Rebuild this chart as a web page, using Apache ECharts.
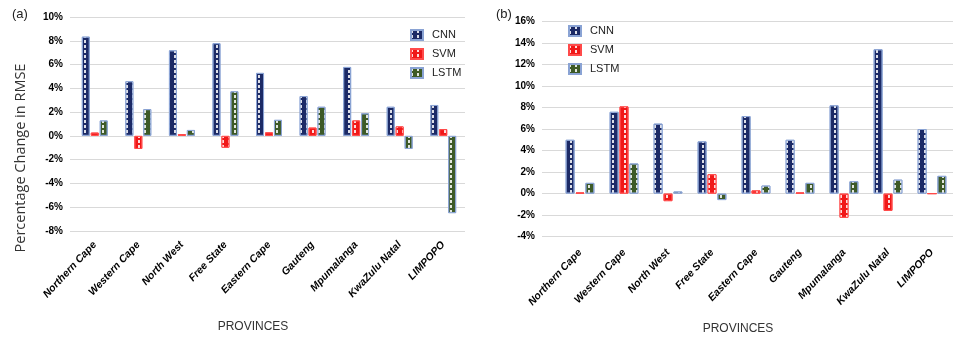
<!DOCTYPE html>
<html>
<head>
<meta charset="utf-8">
<script src="https://cdn.jsdelivr.net/npm/echarts@6/dist/echarts.min.js"></script>
<style>
  html, body { margin: 0; padding: 0; background: #fff; }
  #chart { width: 957px; height: 344px; }
</style>
</head>
<body>
<div id="chart"></div>
<script>
// Province categories shared by both panels
const provinces = ['Northern Cape', 'Western Cape', 'North West', 'Free State', 'Eastern Cape',
                   'Gauteng', 'Mpumalanga', 'KwaZulu Natal', 'LIMPOPO'];
const modelNames = ['CNN', 'SVM', 'LSTM'];

// Panel (a): percentage change in RMSE
const cnnA  = [8.35, 4.6, 7.2, 7.8, 5.3, 3.35, 5.8, 2.45, 2.6];
const svmA  = [0.28, -1.1, 0.15, -1.0, 0.3, 0.7, 1.3, 0.8, 0.57];
const lstmA = [1.3, 2.25, 0.5, 3.75, 1.35, 2.45, 1.9, -1.1, -6.5];

// Panel (b)
const cnnB  = [5.0, 7.6, 6.5, 4.85, 7.2, 5.0, 8.2, 13.4, 6.0];
const svmB  = [0.1, 8.1, -0.7, 1.8, 0.3, 0.1, -2.25, -1.6, 0];
const lstmB = [1.0, 2.8, 0.2, -0.6, 0.75, 1.0, 1.15, 1.3, 1.65];

// Value axis ranges
const rangeA = { min: -8, max: 10, interval: 2 };
const rangeB = { min: -4, max: 16, interval: 2 };

const colors = { CNN: '#1c2a66', SVM: '#f01818', LSTM: '#3d5a27' };
const borders = { CNN: '#8aa3d4', SVM: '#ff4a4a', LSTM: '#8aa3d4' };

// white dashed speckle drawn over every bar
const dots = {
  symbol: 'rect',
  symbolSize: 1,
  color: 'rgba(255,255,255,0.85)',
  dashArrayX: [1.5, 3.2],
  dashArrayY: [3, 2]
};

const chart = echarts.init(document.getElementById('chart'), null, { renderer: 'canvas' });

function pct(v) { return v + '%'; }

function gridAxis(gridIndex, range) {
  return {
    type: 'value', gridIndex, min: range.min, max: range.max, interval: range.interval,
    axisLine: { show: false }, axisTick: { show: false },
    axisLabel: { formatter: pct, fontSize: 10, fontWeight: 'bold', color: '#000',
                 fontFamily: 'Liberation Sans', margin: 7 },
    splitLine: { lineStyle: { color: '#d9d9d9', width: 1 } }
  };
}
function barAxis(gridIndex, range) {
  return {
    type: 'value', gridIndex, min: range.min, max: range.max, interval: range.interval,
    show: false, splitLine: { show: false }
  };
}
function hiddenX(gridIndex) {
  return { type: 'category', gridIndex, data: provinces, show: false };
}
function catX(gridIndex, margin) {
  return {
    type: 'category', gridIndex, data: provinces,
    axisLine: { show: false, onZero: false }, axisTick: { show: false },
    axisLabel: { rotate: 47, interval: 0, margin, fontSize: 10.5, fontWeight: 'bold',
                 fontStyle: 'italic', color: '#000', fontFamily: 'Liberation Sans' }
  };
}

function bar(name, data, axisIndex, width, gap) {
  return {
    type: 'bar', name, data,
    xAxisIndex: axisIndex, yAxisIndex: axisIndex,
    barWidth: width, barGap: gap,
    itemStyle: { color: colors[name], borderColor: borders[name], borderWidth: 1, decal: dots },
    emphasis: { disabled: true }
  };
}

const legendBase = {
  data: modelNames, orient: 'vertical', itemWidth: 12, itemHeight: 10, itemGap: 7,
  icon: 'rect',
  textStyle: { fontSize: 11, color: '#222', fontFamily: 'Liberation Sans', padding: [0, 0, 0, 4] },
  selectedMode: false
};

const option = {
  animation: false,
  backgroundColor: '#fff',
  aria: { enabled: false },
  grid: [
    { left: 70, right: 492, top: 17, bottom: 113 },     // (a) gridlines + labels
    { left: 73, right: 492, top: 17, bottom: 113 },     // (a) bars
    { left: 542, right: 4, top: 21.3, bottom: 107.3 },  // (b) gridlines + labels
    { left: 558, right: 3, top: 21.3, bottom: 107.3 }   // (b) bars
  ],
  xAxis: [hiddenX(0), catX(1, 12), hiddenX(2), catX(3, 14)],
  yAxis: [gridAxis(0, rangeA), barAxis(1, rangeA), gridAxis(2, rangeB), barAxis(3, rangeB)],
  legend: [
    Object.assign({}, legendBase, { left: 405, top: 24 }),
    Object.assign({}, legendBase, { left: 563, top: 20 })
  ],
  series: [
    bar('CNN', cnnA, 1, 8, '12%'),
    bar('SVM', svmA, 1, 8, '12%'),
    bar('LSTM', lstmA, 1, 8, '12%'),
    bar('CNN', cnnB, 3, 9, '10%'),
    bar('SVM', svmB, 3, 9, '10%'),
    bar('LSTM', lstmB, 3, 9, '10%')
  ],
  graphic: [
    { type: 'text', left: 12, top: 8, style: { text: '(a)', fontSize: 13, fill: '#222', fontFamily: 'Liberation Sans' } },
    { type: 'text', left: 496, top: 8, style: { text: '(b)', fontSize: 13, fill: '#222', fontFamily: 'Liberation Sans' } },
    { type: 'text', x: 21, y: 158, rotation: Math.PI / 2,
      style: { text: 'Percentage Change in RMSE', fontSize: 14.5, fill: '#333', fontFamily: 'Open Sans',
               align: 'center', verticalAlign: 'middle' } },
    { type: 'text', x: 253, y: 327,
      style: { text: 'PROVINCES', fontSize: 12, fill: '#333', fontFamily: 'Liberation Sans',
               align: 'center', verticalAlign: 'middle' } },
    { type: 'text', x: 738, y: 329,
      style: { text: 'PROVINCES', fontSize: 12, fill: '#333', fontFamily: 'Liberation Sans',
               align: 'center', verticalAlign: 'middle' } }
  ]
};

chart.setOption(option);
</script>
</body>
</html>
